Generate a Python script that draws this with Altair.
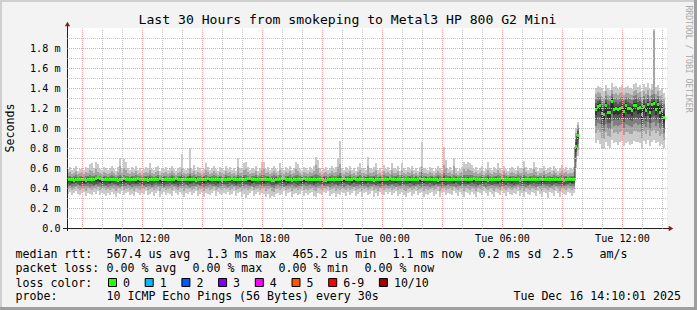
import altair as alt
import pandas as pd

FONT = "DejaVu Sans Mono"

# ---------------- text content ----------------
TITLE = "Last 30 Hours from smokeping to Metal3 HP 800 G2 Mini"
Y_TITLE = "Seconds"
WATERMARK = "RRDTOOL / TOBI OETIKER"

X_TICK_HOURS = [12, 18, 24, 30, 36]          # hours since Mon 00:00
X_TICK_LABELS = ["Mon 12:00", "Mon 18:00", "Tue 00:00", "Tue 06:00", "Tue 12:00"]
Y_TICK_VALUES = [0.0, 0.2, 0.4, 0.6, 0.8, 1.0, 1.2, 1.4, 1.6, 1.8]
Y_TICK_LABELS = ["0.0", "0.2 m", "0.4 m", "0.6 m", "0.8 m", "1.0 m", "1.2 m", "1.4 m", "1.6 m", "1.8 m"]

ROW1 = ["median rtt:", "567.4 us avg", "1.3 ms max", "465.2 us min", "1.1 ms now", "0.2 ms sd", "2.5", "am/s"]
ROW2 = ["packet loss:", "0.00 % avg", "0.00 % max", "0.00 % min", "0.00 % now"]
ROW3_HEAD = "loss color:"
LOSS_LABELS = ["0", "1", "2", "3", "4", "5", "6-9", "10/10"]
LOSS_COLORS = ["#26ff00", "#00b8ff", "#0059ff", "#7e00ff", "#ff00ff", "#ff5500", "#ff0000", "#a10000"]
ROW4 = ["probe:", "10 ICMP Echo Pings (56 Bytes) every 30s"]
DATE_TEXT = "Tue Dec 16 14:10:01 2025"

# ---------------- time grid ----------------
T_START = 8.25      # Mon 08:15
T_END = 38.25       # Tue 14:15
STEP_H = 0.1        # 6-minute consolidated steps

# ---------------- ping percentiles, units of 10 us (0.01 ms) ----------------
# segment 1: steps 0..253
P10_S1 = [59,61,58,60,62,57,59,60,58,61,60,64,65,60,66,64,59,58,61,60,
          58,60,62,59,57,61,70,60,69,66,60,58,61,59,62,58,60,57,59,61,
          60,65,59,58,61,62,57,60,59,61,58,60,62,59,57,60,61,74,59,58,
          60,80,59,63,58,61,60,57,59,65,61,58,60,62,59,57,61,60,58,62,
          59,61,58,60,57,70,60,59,65,66,61,58,60,59,62,57,60,66,66,59,
          61,58,60,62,59,57,65,60,58,61,59,62,58,60,66,64,59,57,61,60,
          58,61,59,62,71,68,60,57,59,61,58,60,62,59,61,70,87,60,58,61,
          59,62,58,60,57,61,65,59,60,58,71,60,59,61,65,58,60,57,63,59,
          61,58,65,60,59,62,57,65,60,58,61,59,62,58,60,57,61,86,60,59,
          58,61,60,57,59,62,60,58,81,68,59,61,58,70,60,57,59,61,66,64,
          66,65,63,59,61,58,60,62,57,59,66,60,58,61,59,65,60,58,62,59,
          57,60,61,59,58,62,60,59,67,61,58,60,59,66,61,57,60,59,62,58,
          60,61,58,62,59,57,60,63,59,61,58,60,59,61]
P9_S1 = [55,56,54,55,57,54,55,56,54,56,55,58,57,55,59,56,55,54,56,55,
         54,55,57,55,53,56,62,55,60,58,55,54,56,55,57,54,55,53,55,56,
         55,58,55,54,56,57,53,55,55,56,54,55,57,55,53,55,56,59,55,54,
         55,60,55,57,54,56,55,53,55,58,56,54,55,57,55,53,56,55,54,57,
         55,56,54,55,53,61,55,55,58,59,56,54,55,55,57,53,55,58,59,55,
         56,54,55,57,55,53,58,55,54,56,55,57,54,55,59,57,55,53,56,55,
         54,56,55,57,63,60,55,53,55,56,54,55,57,55,56,61,64,55,54,56,
         55,57,54,55,53,56,58,55,55,54,62,55,55,56,58,54,55,53,57,55,
         56,54,58,55,55,57,53,58,55,54,56,55,57,54,55,53,56,62,55,55,
         54,56,55,53,55,57,55,54,63,60,55,56,54,62,55,53,55,56,59,57,
         59,58,57,55,56,54,55,57,53,55,58,55,54,56,55,58,55,54,57,55,
         53,55,56,55,54,57,55,55,60,56,54,55,55,59,56,53,55,55,57,54,
         55,56,54,57,55,53,55,57,55,56,54,55,55,56]
P8_S1 = [52,52,51,52,53,51,52,52,51,52,52,53,52,52,53,52,52,51,52,52,
         51,52,53,52,51,52,53,52,53,52,52,51,52,52,53,52,52,51,52,52,
         52,53,52,51,52,53,51,52,52,52,51,52,53,52,51,52,52,54,52,51,
         52,54,52,53,51,52,52,51,52,53,52,51,52,53,52,51,52,52,51,53,
         52,52,51,52,51,53,52,52,53,53,52,51,52,52,53,51,52,53,53,52,
         52,51,52,53,52,51,53,52,51,52,52,53,51,52,53,53,52,51,52,52,
         51,52,52,53,54,53,52,51,52,52,51,52,53,52,52,53,55,52,51,52,
         52,53,51,52,51,52,53,52,52,51,53,52,52,52,53,51,52,51,53,52,
         52,51,53,52,52,53,51,53,52,51,52,52,53,51,52,51,52,56,52,52,
         51,52,52,51,52,53,52,51,55,53,52,52,51,53,52,51,52,52,53,53,
         53,53,53,52,52,51,52,53,51,52,53,52,51,52,52,53,52,51,53,52,
         51,52,52,52,51,53,52,52,53,52,51,52,52,53,52,51,52,52,53,51,
         52,52,51,53,52,51,52,53,52,52,51,52,52,52]
P7_S1 = [50,51,50,50,51,50,50,51,50,50,51,50,50,51,50,51,50,50,51,50,
         50,50,51,50,50,50,51,50,51,50,50,50,51,50,50,51,50,50,50,51,
         50,51,50,50,50,51,50,50,51,50,50,50,51,50,50,50,51,52,50,50,
         51,52,50,50,51,50,50,50,51,50,50,51,50,50,50,50,51,50,50,51,
         50,50,51,50,50,51,50,50,51,50,50,51,50,50,51,50,50,51,50,50,
         51,50,50,50,51,50,50,51,50,50,51,50,50,50,51,50,50,51,50,50,
         50,50,51,50,51,50,50,50,51,50,50,51,50,50,50,51,52,50,50,51,
         50,51,50,50,50,51,50,50,50,51,51,50,50,51,50,50,51,50,50,50,
         51,50,50,50,51,50,50,51,50,50,50,51,50,50,51,50,50,52,50,51,
         50,50,51,50,50,51,50,50,52,50,50,51,50,50,51,50,50,50,51,50,
         51,50,50,51,50,50,50,51,50,50,51,50,50,50,51,50,50,51,50,50,
         50,51,50,50,51,50,50,50,51,50,50,51,50,50,50,51,50,50,51,50,
         50,50,51,50,50,51,50,50,50,51,50,50,51,50]
P6_S1 = [50,49,50,49,50,50,49,50,50,49,50,50,49,50,50,51,50,50,49,50,
         50,50,49,50,50,49,50,50,50,50,49,50,50,50,49,50,50,49,50,50,
         49,50,50,50,49,50,50,50,49,50,50,50,50,49,50,50,50,50,49,50,
         50,50,49,50,49,50,50,50,50,49,50,50,50,49,50,50,50,49,50,50,
         49,50,50,50,50,49,50,50,50,50,50,50,49,50,50,50,49,50,50,50,
         50,49,49,49,50,50,50,50,50,49,50,50,49,50,50,50,49,50,50,50,
         50,50,49,50,50,50,50,49,49,49,50,50,50,50,49,50,50,50,50,50,
         49,50,50,50,50,49,50,50,50,50,49,50,50,49,50,50,50,49,50,50,
         50,50,50,49,50,50,50,50,49,50,50,50,50,49,50,50,50,50,49,50,
         50,50,49,50,50,49,50,50,50,50,50,49,50,50,50,50,49,50,50,50,
         50,49,50,50,50,50,49,50,50,50,49,50,50,50,50,49,50,50,50,50,
         50,50,50,49,50,50,49,50,50,50,50,50,49,50,50,50,50,49,50,50,
         49,50,50,50,50,49,50,50,49,50,50,50,50,49]
MED_S1 = [48,48,48,47,48,48,48,48,48,47,48,48,48,48,49,50,49,48,48,48,
          48,48,48,48,48,47,48,48,49,48,48,48,48,48,48,49,48,48,48,48,
          47,48,48,48,48,48,49,48,48,48,48,48,48,48,49,48,48,48,48,48,
          48,48,48,48,47,48,48,48,48,48,49,48,48,48,48,48,48,47,48,48,
          48,48,49,48,48,48,48,48,48,48,49,49,48,48,48,48,48,48,48,48,
          48,48,47,47,48,48,48,49,49,48,48,48,47,48,48,48,48,48,49,48,
          48,48,48,48,48,48,48,48,47,47,48,48,48,48,48,48,48,48,49,48,
          48,48,48,49,48,48,48,48,48,48,48,48,48,47,48,48,48,48,48,48,
          48,49,48,48,48,48,48,48,48,48,48,48,48,48,48,48,49,48,48,48,
          48,48,48,48,48,47,48,48,48,48,48,48,48,48,48,48,48,48,48,48,
          48,48,48,49,48,48,48,48,48,48,47,48,48,48,48,48,48,49,48,48,
          48,48,48,48,48,48,47,48,48,48,48,48,48,48,48,48,48,48,48,48,
          48,48,48,48,48,48,48,48,47,48,48,48,48,48]
P5_S1 = [46,46,45,46,46,47,46,46,45,46,46,46,47,46,46,47,46,45,46,46,
         46,45,46,46,47,46,46,45,46,46,46,47,46,46,45,46,46,46,47,46,
         45,46,46,47,46,46,46,45,46,46,47,46,46,45,46,46,46,47,46,46,
         46,45,46,46,46,47,46,46,45,46,46,46,47,46,46,45,46,46,46,47,
         46,46,47,46,45,46,46,46,47,46,46,46,45,46,46,47,46,46,45,46,
         46,47,46,46,45,46,46,47,46,46,45,46,46,46,47,46,46,45,46,46,
         47,46,46,45,46,46,47,46,46,46,45,46,46,47,46,46,46,45,46,46,
         46,46,45,46,46,47,46,46,46,45,46,46,46,46,47,46,45,46,46,46,
         46,47,46,46,45,46,46,46,47,46,46,45,46,46,46,47,46,46,45,46,
         46,46,46,47,46,45,46,46,46,46,47,46,46,45,46,46,46,47,46,46,
         45,46,46,46,47,46,46,45,46,46,46,46,47,46,46,45,46,46,46,47,
         46,46,45,46,46,46,46,47,46,46,45,46,46,46,47,46,46,45,46,46,
         46,47,46,46,45,46,46,46,46,47,46,46,45,46]
P4_S1 = [44,43,44,44,45,44,43,44,44,44,45,44,44,43,44,44,45,44,44,43,
         44,44,45,44,44,43,44,44,44,45,44,43,44,44,44,44,45,44,43,44,
         44,44,43,44,45,44,44,44,43,44,44,45,44,44,44,43,44,44,45,44,
         43,44,44,45,44,44,43,44,44,44,45,44,44,44,43,44,45,44,44,44,
         44,45,44,44,43,44,44,45,44,44,44,43,44,45,44,44,44,43,44,44,
         45,44,43,43,44,44,45,44,44,43,44,44,44,45,44,43,44,44,44,45,
         44,44,44,43,44,45,44,44,43,44,44,44,45,44,44,43,44,44,45,44,
         44,43,44,45,44,44,44,43,44,44,45,44,44,44,43,44,44,45,44,44,
         43,44,44,44,45,44,43,44,44,44,44,45,44,43,44,44,44,44,45,44,
         44,45,44,43,44,44,44,45,44,43,44,44,44,44,45,44,43,44,44,44,
         44,44,45,44,44,43,44,44,44,45,44,44,43,44,44,44,45,44,44,43,
         45,44,44,43,44,44,45,44,44,44,43,44,44,45,44,44,44,43,44,44,
         44,44,43,44,45,44,44,44,43,44,44,45,44,44]
P3_S1 = [42,42,41,42,42,43,42,41,42,42,42,41,42,42,43,42,42,41,42,42,
         41,42,42,43,42,42,41,42,42,42,43,42,41,42,42,42,42,43,42,41,
         42,42,41,42,43,42,42,42,41,42,42,42,43,42,42,41,42,42,42,43,
         42,41,42,42,42,43,42,42,41,42,42,43,42,42,42,41,42,42,43,42,
         41,42,43,42,42,42,41,42,42,43,42,42,42,41,42,42,43,42,42,42,
         42,42,41,40,42,43,42,42,41,42,42,42,43,42,41,42,42,42,43,42,
         42,43,42,42,41,42,42,43,42,42,42,41,42,42,43,42,42,42,41,42,
         43,42,42,41,42,42,43,42,42,42,41,42,42,43,42,42,41,42,42,43,
         42,42,43,42,41,42,42,42,43,42,42,41,42,42,42,43,42,41,42,42,
         42,41,42,42,43,42,42,41,42,42,43,42,42,42,41,42,42,43,42,42,
         43,42,42,42,41,42,43,42,42,41,42,42,43,42,42,42,41,42,42,43,
         42,42,41,42,42,43,42,42,42,41,42,43,42,42,41,42,42,42,43,42,
         42,41,42,43,42,42,42,41,42,42,43,42,42,42]
P2_S1 = [39,40,38,39,41,39,38,40,39,37,40,39,38,40,39,41,38,39,40,38,
         39,38,40,39,37,40,39,41,38,39,40,38,39,37,40,39,38,40,39,41,
         38,39,40,38,39,41,37,39,40,38,39,40,38,41,39,38,40,39,37,40,
         39,40,38,39,41,38,39,40,37,39,40,38,39,41,38,40,39,38,40,39,
         40,38,39,41,38,39,40,37,39,40,38,39,41,38,39,40,38,39,40,37,
         39,40,37,36,39,40,38,39,41,38,39,40,37,39,40,38,39,41,38,39,
         38,39,40,38,37,40,39,38,40,39,41,38,39,40,37,39,38,40,39,38,
         40,38,39,41,38,39,40,37,39,40,38,39,41,38,39,37,40,39,38,40,
         39,40,38,39,41,38,39,40,38,37,39,40,38,39,41,38,39,40,37,39,
         38,39,40,38,39,41,37,39,40,38,39,40,38,41,39,38,40,39,37,40,
         39,38,40,39,37,40,39,38,41,39,38,40,39,37,40,39,38,41,39,38,
         40,39,38,40,39,41,38,39,37,40,39,38,40,39,38,41,39,37,40,39,
         38,40,39,38,41,39,37,40,39,38,40,39,38,39]
P1_S1 = [34,36,33,35,37,34,33,35,36,32,35,34,33,36,34,37,33,35,34,32,
         35,33,36,34,31,35,34,37,33,35,36,33,34,32,36,35,33,35,34,37,
         33,34,36,32,35,37,31,34,36,33,35,34,32,37,35,33,36,34,31,35,
         34,36,33,35,37,32,34,36,31,35,34,33,35,37,32,36,34,33,35,34,
         36,33,34,37,32,35,36,31,34,30,33,35,37,32,34,36,33,35,34,31,
         34,30,32,31,34,35,33,34,37,32,35,36,31,34,35,33,34,37,32,35,
         33,35,36,32,31,35,34,33,36,35,37,32,34,35,31,34,33,36,35,32,
         36,33,35,37,32,34,36,31,35,36,33,34,37,31,35,32,36,34,33,36,
         34,36,33,35,37,32,34,36,33,31,35,36,32,34,37,33,35,36,31,34,
         33,35,36,32,34,37,31,35,36,33,35,34,33,37,35,32,36,34,31,36,
         35,33,36,34,31,36,35,33,37,35,32,36,34,31,36,35,33,37,35,32,
         36,34,33,35,34,37,32,35,31,36,34,33,36,35,32,37,34,31,36,35,
         30,36,35,32,37,35,31,36,34,33,36,35,32,35]

# the latency jump: steps 254..255
P10_J = [100, 106]
P9_J = [95, 103]
P8_J = [90, 100]
P7_J = [86, 97]
P6_J = [83, 94]
MED_J = [81, 92]
P5_J = [79, 90]
P4_J = [76, 88]
P3_J = [72, 84]
P2_J = [66, 78]
P1_J = [60, 72]

# no data: steps 256..263
GAP = [None] * 8

# segment 2: steps 264..298
P10_S2 = [140,142,141,139,137,143,140,138,145,141,142,139,141,143,140,141,142,140,139,144,
          145,141,143,137,144,141,145,139,144,199,141,143,138,140,135]
P9_S2 = [134,136,135,132,130,137,133,132,138,134,135,133,135,136,133,135,135,134,133,137,
         138,135,136,131,137,134,138,132,138,197,134,137,132,133,129]
P8_S2 = [129,131,131,127,125,132,128,127,134,129,130,128,130,131,128,131,130,129,128,132,
         133,130,131,126,132,129,133,127,133,134,129,132,127,128,124]
P7_S2 = [125,127,128,123,121,128,124,123,131,125,126,124,126,127,124,128,126,125,124,128,
         129,126,127,122,128,125,129,123,129,130,125,129,123,124,119]
P6_S2 = [121,124,125,118,117,125,119,119,129,121,122,121,122,123,120,125,122,122,121,125,
         125,122,123,117,124,121,126,119,126,127,121,126,119,121,114]
MED_S2 = [118,121,122,114,113,122,115,115,126,118,119,118,119,120,116,122,119,119,117,122,
          122,119,120,113,121,117,123,115,123,124,118,123,115,117,110]
P5_S2 = [113,116,117,109,108,116,110,110,120,113,114,113,114,115,111,116,114,114,112,116,
         117,114,115,108,116,112,118,110,117,118,113,117,110,112,105]
P4_S2 = [108,111,111,104,103,110,105,105,114,108,109,108,109,110,106,110,109,108,107,110,
         111,109,110,103,110,107,112,105,111,112,108,111,105,107,100]
P3_S2 = [102,105,104,98,97,104,99,99,107,102,103,102,103,104,100,104,103,102,101,104,
         105,103,104,97,104,101,106,99,105,106,102,105,99,101,95]
P2_S2 = [95,98,96,90,89,96,92,91,99,95,96,94,96,97,93,96,96,94,94,97,
         97,96,96,89,97,94,98,92,97,98,95,97,92,94,88]
P1_S2 = [85,88,84,80,79,86,82,80,88,85,86,83,86,87,82,85,86,83,84,87,
         86,86,85,79,87,84,88,82,86,88,85,86,82,84,80]

SERIES = {
    "P1": P1_S1 + P1_J + GAP + P1_S2,
    "P2": P2_S1 + P2_J + GAP + P2_S2,
    "P3": P3_S1 + P3_J + GAP + P3_S2,
    "P4": P4_S1 + P4_J + GAP + P4_S2,
    "P5": P5_S1 + P5_J + GAP + P5_S2,
    "MED": MED_S1 + MED_J + GAP + MED_S2,
    "P6": P6_S1 + P6_J + GAP + P6_S2,
    "P7": P7_S1 + P7_J + GAP + P7_S2,
    "P8": P8_S1 + P8_J + GAP + P8_S2,
    "P9": P9_S1 + P9_J + GAP + P9_S2,
    "P10": P10_S1 + P10_J + GAP + P10_S2,
}
N = len(SERIES["MED"])
for k, v in SERIES.items():
    if len(v) != N:
        raise SystemExit(f"length mismatch {k}: {len(v)} vs {N}")

rows = []
for i in range(N):
    if SERIES["MED"][i] is None:
        continue
    r = {"t0": T_START + i * STEP_H, "t1": T_START + (i + 1) * STEP_H,
         "seg": 0 if i < len(MED_S1) + len(MED_J) else 1}
    for k, v in SERIES.items():
        r[k] = v[i] / 100.0
    rows.append(r)
df = pd.DataFrame(rows)

# ---------------- styles / layout ----------------
W, H = 600, 200
PAD_L, PAD_T = 67, 28
BG = "#f3f3f3"
MAJOR = "#f0a0a0"
MINOR = "#c8c8c8"
SMOKE = ["#cacaca", "#a4a4a4", "#7e7e7e", "#585858", "#323232"]
PAIRS = [("P1", "P10"), ("P2", "P9"), ("P3", "P8"), ("P4", "P7"), ("P5", "P6")]
GREEN = "#26ff00"


def chain_expr(pairs, test):
    expr = "''"
    for v, lab in reversed(pairs):
        expr = f"{test(v)} ? '{lab}' : {expr}"
    return expr


x_label_expr = chain_expr(list(zip(X_TICK_HOURS, X_TICK_LABELS)), lambda v: f"datum.value === {v}")
y_label_expr = chain_expr(list(zip(Y_TICK_VALUES, Y_TICK_LABELS)), lambda v: f"abs(datum.value - {v}) < 0.001")

xs = alt.Scale(domain=[T_START, T_END], nice=False, zero=False)
ys = alt.Scale(domain=[0, 2.0], nice=False, zero=False)

x_axis = alt.Axis(
    values=list(range(9, 39)), labelExpr=x_label_expr, title=None,
    grid=True, gridDash=[1, 1], gridDashOffset=0.5, gridWidth=1,
    gridColor={"condition": {"test": "datum.value % 3 === 0", "value": MAJOR}, "value": MINOR},
    ticks=False, tickSize=0, domain=False,
    labelFont=FONT, labelFontSize=10.15, labelColor="#000000", labelPadding=13,
    labelBaseline="alphabetic", labelAlign="center",
    labelOverlap=False, labelFlush=False, labelBound=False, zindex=1)

y_axis = alt.Axis(
    values=[round(i * 0.1, 1) for i in range(20)], labelExpr=y_label_expr, title=None,
    grid=True, gridDash=[1, 1], gridDashOffset=0.5, gridWidth=1,
    gridColor={"condition": {"test": "round(datum.value * 10) % 2 === 0", "value": MAJOR}, "value": MINOR},
    gridOpacity={"condition": {"test": "datum.value === 0", "value": 0}, "value": 1},
    ticks=False, tickSize=0, domain=False,
    labelFont=FONT, labelFontSize=10.15, labelColor="#000000", labelPadding=7,
    labelBaseline="middle", labelAlign="right",
    labelOverlap=False, labelFlush=False, labelBound=False, zindex=1)


def X(f):
    return alt.X(f"{f}:Q", scale=xs, axis=x_axis)


def Y(f):
    return alt.Y(f"{f}:Q", scale=ys, axis=y_axis)


layers = []
for (lo, hi), col in zip(PAIRS, SMOKE):
    layers.append(alt.Chart(df).mark_rect(color=col).encode(
        x=X("t0"), x2="t1", y=Y(lo), y2=hi))

layers.append(alt.Chart(df).mark_line(interpolate="step-after", color="#202020", strokeWidth=1).encode(
    x=X("t0"), y=Y("MED"), detail="seg:N"))

layers.append(alt.Chart(df).transform_calculate(
    g0="datum.MED - 0.01", g1="datum.MED + 0.02").mark_rect(color=GREEN).encode(
    x=X("t0"), x2="t1", y=Y("g0"), y2="g1"))

ONE = pd.DataFrame({"k": [0]})


def px(cx):
    return cx - PAD_L


def py(cy):
    return cy - PAD_T


def rect(x0, x1, y0, y1, color, stroke=None):
    kw = {"color": color}
    if stroke:
        kw = {"fill": color, "stroke": stroke, "strokeWidth": 1}
    return alt.Chart(ONE).mark_rect(**kw).encode(
        x=alt.value(px(x0)), x2=alt.value(px(x1)), y=alt.value(py(y0)), y2=alt.value(py(y1)))


def text(s, cx, cy, size=11.6, align="left", baseline="alphabetic", angle=0, color="#000000"):
    return alt.Chart(ONE).mark_text(
        font=FONT, fontSize=size, align=align, baseline=baseline, angle=angle, color=color).encode(
        x=alt.value(px(cx)), y=alt.value(py(cy)), text=alt.value(s))


# frame shading
layers.append(rect(0, 697, 0, 2, "#cfcfcf"))
layers.append(rect(0, 2, 0, 310, "#cfcfcf"))
layers.append(rect(0, 697, 307, 310, "#9e9e9e"))
layers.append(rect(694, 697, 0, 310, "#9e9e9e"))

# axis lines with arrows
layers.append(alt.Chart(ONE).mark_rule(color="#1f1f1f", strokeWidth=1).encode(
    x=alt.value(px(63)), x2=alt.value(px(670)), y=alt.value(py(228.5))))
layers.append(alt.Chart(ONE).mark_rule(color="#1f1f1f", strokeWidth=1).encode(
    x=alt.value(px(67.5)), y=alt.value(py(25)), y2=alt.value(py(231))))
layers.append(alt.Chart(ONE).mark_point(shape="triangle-up", filled=True, color="#801f1f", size=28, opacity=1).encode(
    x=alt.value(px(67.5)), y=alt.value(py(24))))
layers.append(alt.Chart(ONE).mark_point(shape="triangle-right", filled=True, color="#801f1f", size=28, opacity=1).encode(
    x=alt.value(px(671)), y=alt.value(py(228.5))))

# titles
layers.append(text(TITLE, 347.5, 24, size=13.1, align="center"))
layers.append(text(Y_TITLE, 10.5, 128, size=11.6, align="center", baseline="middle", angle=270))
layers.append(text(WATERMARK, 688, 59, size=8.1, align="center", baseline="middle", angle=90, color="#a8a8a8"))

# legend rows
ROW1_X = [16, 107, 207, 293, 393, 479, 553, 600]
ROW2_X = [16, 107, 193, 279, 365]
for s, x in zip(ROW1, ROW1_X):
    layers.append(text(s, x - 0.5, 258))
for s, x in zip(ROW2, ROW2_X):
    layers.append(text(s, x - 0.5, 272))
layers.append(text(ROW3_HEAD, 15.5, 286.5))
bx = 108.5
for lab, col in zip(LOSS_LABELS, LOSS_COLORS):
    layers.append(rect(bx, bx + 8, 278.5, 286.5, col, stroke="#000000"))
    layers.append(text(lab, bx + 14.5, 286.5))
    bx = bx + 15 + 7 * len(lab) + 14.7
layers.append(text(ROW4[0], 15.5, 300))
layers.append(text(ROW4[1], 106.5, 300))
layers.append(text(DATE_TEXT, 681, 300, align="right"))

chart = alt.layer(*layers).properties(
    width=W, height=H, autosize="none", background=BG,
    padding={"left": PAD_L, "top": PAD_T, "right": 697 - PAD_L - W, "bottom": 310 - PAD_T - H},
).configure_view(fill="white", stroke=None)

chart.save("out.html", embed_options={"renderer": "svg", "actions": False})
